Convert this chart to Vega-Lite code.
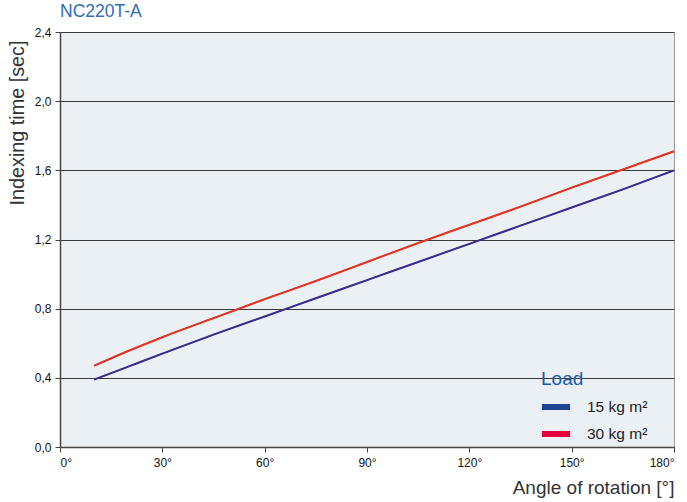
{
  "$schema": "https://vega.github.io/schema/vega-lite/v6.json",
  "width": 614,
  "height": 415,
  "autosize": {"type": "none"},
  "padding": {"left": 60, "top": 32, "right": 13, "bottom": 55},
  "background": "white",
  "title": {
    "text": "NC220T-A",
    "anchor": "start",
    "frame": "group",
    "font": "Liberation Sans",
    "fontSize": 17.5,
    "fontWeight": "normal",
    "color": "#2f6db5",
    "offset": 6
  },
  "config": {
    "view": {"fill": "#ebf0f5", "stroke": "#999999", "strokeWidth": 1},
    "font": "Liberation Sans",
    "axis": {
      "labelFont": "Liberation Sans",
      "titleFont": "Liberation Sans",
      "labelFontSize": 12,
      "labelColor": "#111111",
      "titleFontSize": 19,
      "titleFontWeight": "normal",
      "titleColor": "#333333",
      "domainColor": "#444444",
      "tickColor": "#444444",
      "domainWidth": 1.5,
      "tickWidth": 1,
      "tickSize": 5
    }
  },
  "data": {
    "values": [
      {"angle": 10, "time": 0.39, "load": "15 kg m²"},
      {"angle": 20, "time": 0.465, "load": "15 kg m²"},
      {"angle": 30, "time": 0.54, "load": "15 kg m²"},
      {"angle": 45, "time": 0.65, "load": "15 kg m²"},
      {"angle": 60, "time": 0.755, "load": "15 kg m²"},
      {"angle": 75, "time": 0.86, "load": "15 kg m²"},
      {"angle": 90, "time": 0.965, "load": "15 kg m²"},
      {"angle": 105, "time": 1.07, "load": "15 kg m²"},
      {"angle": 120, "time": 1.175, "load": "15 kg m²"},
      {"angle": 135, "time": 1.28, "load": "15 kg m²"},
      {"angle": 150, "time": 1.385, "load": "15 kg m²"},
      {"angle": 165, "time": 1.49, "load": "15 kg m²"},
      {"angle": 180, "time": 1.6, "load": "15 kg m²"},
      {"angle": 10, "time": 0.47, "load": "30 kg m²"},
      {"angle": 20, "time": 0.555, "load": "30 kg m²"},
      {"angle": 30, "time": 0.635, "load": "30 kg m²"},
      {"angle": 45, "time": 0.745, "load": "30 kg m²"},
      {"angle": 60, "time": 0.855, "load": "30 kg m²"},
      {"angle": 75, "time": 0.96, "load": "30 kg m²"},
      {"angle": 90, "time": 1.07, "load": "30 kg m²"},
      {"angle": 105, "time": 1.18, "load": "30 kg m²"},
      {"angle": 120, "time": 1.285, "load": "30 kg m²"},
      {"angle": 135, "time": 1.39, "load": "30 kg m²"},
      {"angle": 150, "time": 1.5, "load": "30 kg m²"},
      {"angle": 165, "time": 1.605, "load": "30 kg m²"},
      {"angle": 180, "time": 1.71, "load": "30 kg m²"}
    ]
  },
  "encoding": {
    "x": {
      "field": "angle",
      "type": "quantitative",
      "scale": {"domain": [0, 180], "nice": false},
      "axis": {
        "values": [0, 30, 60, 90, 120, 150, 180],
        "labelExpr": "datum.value + '°'",
        "grid": false,
        "title": "Angle of rotation [°]",
        "titleAnchor": "end",
        "titlePadding": 10,
        "labelPadding": 5
      }
    },
    "y": {
      "field": "time",
      "type": "quantitative",
      "scale": {"domain": [0, 2.4], "nice": false},
      "axis": {
        "values": [0, 0.4, 0.8, 1.2, 1.6, 2.0, 2.4],
        "labelExpr": "replace(format(datum.value, '.1f'), '.', ',')",
        "grid": true,
        "gridColor": "#3a3a3a",
        "gridWidth": 1.2,
        "gridOpacity": 1,
        "title": "Indexing time [sec]",
        "titleFontSize": 19.8,
        "titleAnchor": "end",
        "titleY": 8,
        "titlePadding": 7,
        "labelPadding": 4
      }
    }
  },
  "layer": [
    {
      "mark": {"type": "line", "strokeWidth": 1.2, "interpolate": "monotone"},
      "encoding": {
        "stroke": {
          "field": "load",
          "type": "nominal",
          "scale": {"domain": ["15 kg m²", "30 kg m²"], "range": ["#1d4591", "#e4003b"]},
          "legend": {
            "title": "Load",
            "orient": "none",
            "legendX": 481,
            "legendY": 338,
            "titleFont": "Liberation Sans",
            "titleFontSize": 19,
            "titleFontWeight": 500,
            "titleColor": "#1f5aa6",
            "titlePadding": 3,
            "labelFont": "Liberation Sans",
            "labelFontSize": 15.5,
            "labelColor": "#222222",
            "labelOffset": 16,
            "symbolType": "M-1.17,0L1.17,0",
            "symbolSize": 576,
            "symbolStrokeWidth": 6,
            "rowPadding": -8
          }
        }
      }
    },
    {
      "mark": {"type": "line", "strokeWidth": 2, "interpolate": "monotone"},
      "encoding": {
        "color": {
          "field": "load",
          "type": "nominal",
          "scale": {"domain": ["15 kg m²", "30 kg m²"], "range": ["#3d2b8f", "#e8321e"]},
          "legend": null
        }
      }
    }
  ]
}
